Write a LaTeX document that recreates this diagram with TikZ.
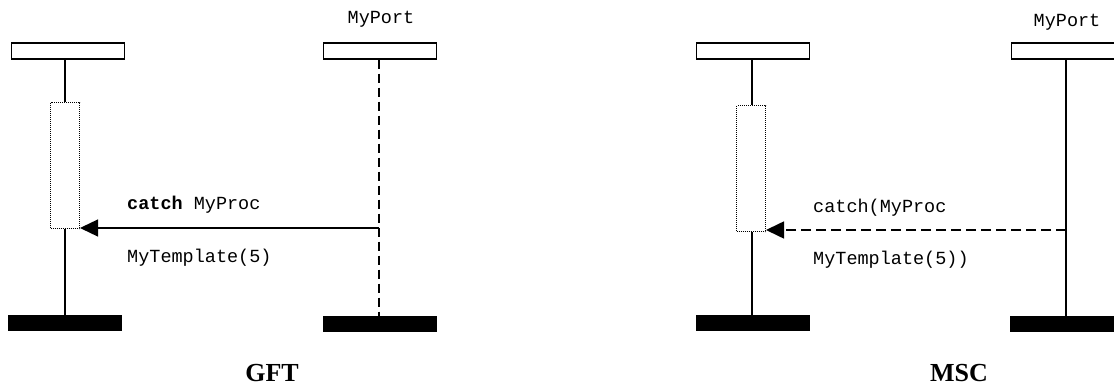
\documentclass[tikz,border=0pt]{standalone}
\usepackage{fontspec}
\setmainfont{Liberation Serif}
\setmonofont{Liberation Mono}
\usetikzlibrary{arrows.meta}

\begin{document}
\begin{tikzpicture}[x=1pt,y=-1pt,
  headbox/.style={draw,line width=1.3pt,minimum width=113pt,minimum height=16pt,inner sep=0pt},
  endbar/.style={fill=black,minimum width=114pt,minimum height=16pt,inner sep=0pt},
  actbox/.style={draw,line width=1pt,dash pattern=on 1pt off 1pt,minimum width=29pt,minimum height=126pt,inner sep=0pt},
  life/.style={line width=1.3pt},
  msg/.style={font=\fontsize{18.5}{22}\selectfont\ttfamily,anchor=west,inner sep=0pt},
  tip/.style={-{Triangle[length=18pt,width=17pt]}},
  caption/.style={font=\fontsize{26}{30}\selectfont\bfseries}]
\useasboundingbox (0,0) rectangle (1114,387);

% GFT
\node[headbox] (gInst) at (68,51) {};
\node[headbox] (gPort) at (380,51) {};
\node[msg,anchor=center] (gPortName) at (381,19) {MyPort};
\node[actbox] (gAct) at (65,166) {};
\node[endbar] (gInstEnd) at (65,323) {};
\node[endbar] (gPortEnd) at (380,324) {};
\draw[life] (gInst.south -| gAct.north) -- (gAct.north);
\draw[life] (gAct.south) -- (gInstEnd.north -| gAct.south);
\draw[life,dash pattern=on 9pt off 5pt] (gPort.south -| 379,0) -- (gPortEnd.north -| 379,0);
\coordinate (gFrom) at (379,228);
\draw[life,tip] (gFrom) -- (gAct.east |- gFrom);
\node[msg] (gCatch) at (127,205) {\textbf{catch} MyProc};
\node[msg] (gTempl) at (127,258) {MyTemplate(5)};
\node[caption] (gCap) at (272,373) {GFT};

% MSC
\node[headbox] (mInst) at (753,51) {};
\node[headbox] (mPort) at (1068,51) {};
\node[msg,anchor=center] (mPortName) at (1067,22) {MyPort};
\node[actbox] (mAct) at (751,169) {};
\node[endbar] (mInstEnd) at (753,323) {};
\node[endbar] (mPortEnd) at (1067,324) {};
\draw[life] (mInst.south -| 752,0) -- (mAct.north -| 752,0);
\draw[life] (mAct.south -| 752,0) -- (mInstEnd.north -| 752,0);
\draw[life] (mPort.south -| 1066,0) -- (mPortEnd.north -| 1066,0);
\coordinate (mFrom) at (1066,230);
\draw[line width=1.6pt,dash pattern=on 10pt off 5pt,tip] (mFrom) -- (mAct.east |- mFrom);
\node[msg] (mCatch) at (813,208) {catch(MyProc};
\node[msg] (mTempl) at (813,260) {MyTemplate(5))};
\node[caption] (mCap) at (959,373) {MSC};
\end{tikzpicture}
\end{document}
